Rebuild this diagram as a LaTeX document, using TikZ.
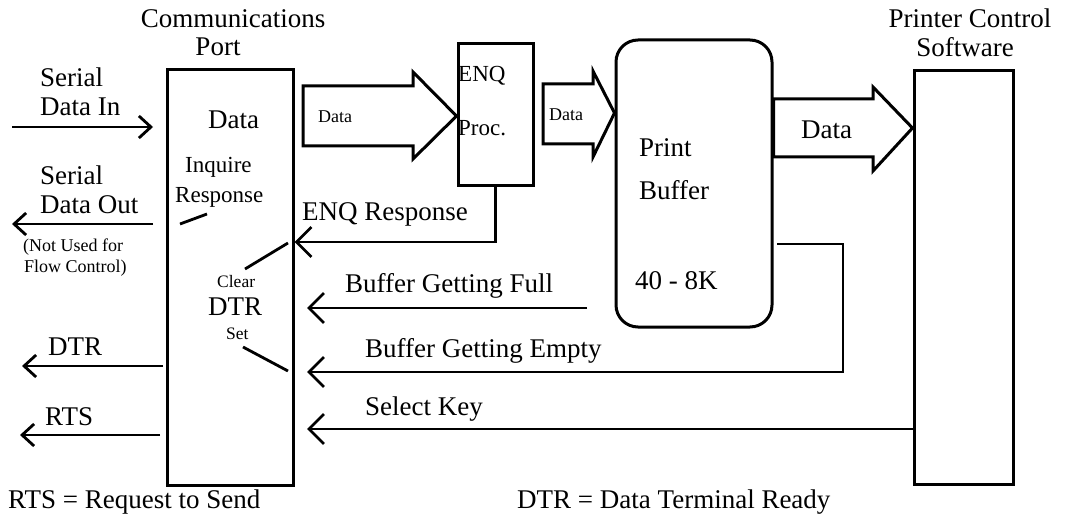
\documentclass[tikz,border=0pt]{standalone}
\usepackage{fontspec}
\setmainfont{Liberation Serif}
\usetikzlibrary{arrows.meta}
\begin{document}
\begin{tikzpicture}[x=1pt,y=-1pt,
  box/.style={draw, line width=3pt, inner sep=0pt, minimum width=#1},
  wire/.style={line width=2.8pt},
  sig/.style={wire, -{Straight Barb[length=15pt,width=30pt]}},
  port/.style={wire, -{Straight Barb[length=12pt,width=22pt]}},
  fat/.style={draw, line width=3pt, line join=miter},
  lbl/.style={inner sep=0pt, anchor=base west, font=\fontsize{27}{30}\selectfont},
  mid/.style={lbl, font=\fontsize{23}{26}\selectfont},
  sml/.style={lbl, font=\fontsize{18}{20}\selectfont},
  tiny/.style={lbl, font=\fontsize{17.5}{20}\selectfont}]
\useasboundingbox (0,0) rectangle (1066,516);

% ---- blocks ----
\node[box=126pt, minimum height=415pt] (comm) at (230,277.5) {};
\node[box=75pt, minimum height=142pt] (enq) at (495.5,115) {};
\node[box=156pt, minimum height=287pt, rounded corners=22pt] (buf) at (694,183.5) {};
\node[box=99pt, minimum height=413pt] (soft) at (963.5,277.5) {};

% ---- headings ----
\node[lbl, anchor=base] (commT) at (233,28) {Communications};
\node[lbl, anchor=base] (commP) at (218,56) {Port};
\node[lbl, anchor=base] (softT) at (970,28) {Printer Control};
\node[lbl, anchor=base] (softS) at (965,57) {Software};

% ---- text inside the blocks ----
\node[lbl] (cData) at (208,129) {Data};
\node[mid] (cInq) at (185,172) {Inquire};
\node[mid] (cResp) at (175,202) {Response};
\node[tiny] (cClr) at (217,287) {Clear};
\node[lbl] (cDTR) at (208,315) {DTR};
\node[tiny] (cSet) at (226,339) {Set};
\node[mid] (eEnq) at (458,82) {ENQ};
\node[mid] (eProc) at (458,136) {Proc.};
\node[lbl] (bPrint) at (639,157) {Print};
\node[lbl] (bBuf) at (639,200) {Buffer};
\node[lbl] (bSize) at (635,289) {40 - 8K};

% ---- internal switch marks of the port ----
\draw[wire] (180,224) -- (207,214);
\draw[wire] (245,269) -- (288,243);
\draw[wire] (243,347) -- (288,371);

% ---- wide data arrows ----
\draw[fat] (303,86) -- (413,86) -- (413,72) -- (enq.west |- 0,116) -- (413,159) -- (413,146) -- (303,146) -- cycle;
\node[sml] (d1) at (318,123) {Data};
\draw[fat] (543,84) -- (593,84) -- (593,71) -- (buf.west |- 0,113) -- (593,157) -- (593,144) -- (543,144) -- cycle;
\node[sml] (d2) at (549,121) {Data};
\draw[fat] (buf.east |- 0,99) -- (873,99) -- (873,87) -- (soft.west |- 0,128) -- (873,171) -- (873,157) -- (buf.east |- 0,157) -- cycle;
\node[lbl] (d3) at (801,139) {Data};

% ---- serial lines on the left ----
\coordinate (sinA) at (12,127);  \coordinate (sinB) at (153,127);
\coordinate (soutA) at (153,224); \coordinate (soutB) at (12,224);
\coordinate (dtrA) at (163,366); \coordinate (dtrB) at (22,366);
\coordinate (rtsA) at (160,435); \coordinate (rtsB) at (20,435);
\draw[port] (sinA) -- (sinB);
\draw[port] (soutA) -- (soutB);
\draw[port] (dtrA) -- (dtrB);
\draw[port] (rtsA) -- (rtsB);
\node[lbl] (sin1) at (40,87) {Serial};
\node[lbl] (sin2) at (40,116) {Data In};
\node[lbl] (sout1) at (40,185) {Serial};
\node[lbl] (sout2) at (40,213) {Data Out};
\node[sml] (nu1) at (23,251) {(Not Used for};
\node[sml] (nu2) at (24,272) {Flow Control)};
\node[lbl] (ldtr) at (48,355) {DTR};
\node[lbl] (lrts) at (45,425) {RTS};

% ---- control signals back to the port ----
\coordinate (enqY) at (0,242);
\draw[sig] (enq.south) |- (comm.east |- enqY);
\node[lbl] (lEnq) at (302,220) {ENQ Response};

\coordinate (fullA) at (587,308); \coordinate (fullB) at (307,308);
\draw[sig] (fullA) -- (fullB);
\node[lbl] (lFull) at (345,292) {Buffer Getting Full};

\coordinate (empA) at (777,244); \coordinate (empB) at (307,372);
\draw[sig] (empA) -- (843,244) |- (empB);
\node[lbl] (lEmp) at (365,357) {Buffer Getting Empty};

\coordinate (selB) at (307,429);
\draw[sig] (soft.west |- selB) -- (selB);
\node[lbl] (lSel) at (365,415) {Select Key};

% ---- legend ----
\node[lbl] (kRTS) at (8,508) {RTS = Request to Send};
\node[lbl] (kDTR) at (517,508) {DTR = Data Terminal Ready};
\end{tikzpicture}
\end{document}
